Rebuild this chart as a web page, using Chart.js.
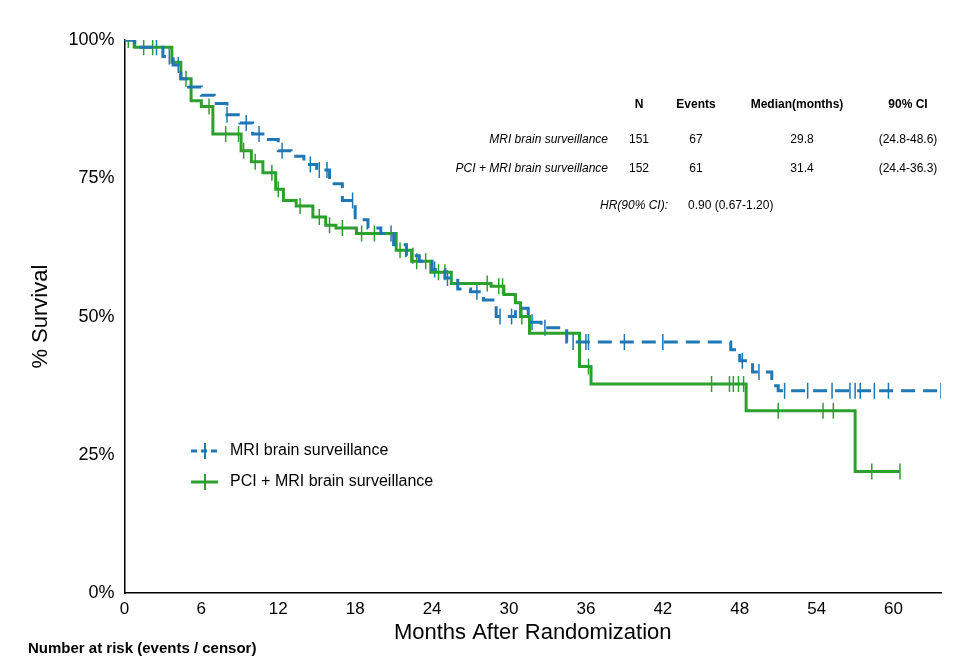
<!DOCTYPE html>
<html><head><meta charset="utf-8">
<script src="https://cdn.jsdelivr.net/npm/chart.js@4"></script>
<style>html,body{margin:0;padding:0;background:#fff}#w{width:971px;height:666px}</style>
</head><body><div id="w"><canvas id="c"></canvas></div>
<script>
const xTicks=[0,6,12,18,24,30,36,42,48,54,60];
const mriT=[0,0.8,3,3.8,4.4,5,6,7,8,9,10,11,12,13,14,15,16,17,18,19,20,21,22,23,24,25,26,27,28,29,30.5,31.5,32.5,34.5,47.3,48,49,50.5,51,63.7];
const mriS=[100,98.7,97,95.5,93,91.5,90,88.5,86.5,85,83,82,80,79,77.5,76.5,74,71,67.5,66,65,63,61,60,58.5,57,55,54.5,53,50,51.5,49,48,45.4,44,42,40,37.5,36.6,36.6];
const pciT=[0,0.8,2.8,3.7,4.4,5.2,6,6.9,8.3,9.1,9.9,10.8,11.8,12.4,13.4,14.7,15.7,16.5,18.1,21.2,22.4,23.9,25.5,28.6,29.6,30.5,30.9,31.6,35.5,36.4,48.5,57.0,60.5];
const pciS=[100,98.7,98.7,96,93,89,88,83,83,80,78,76,73,71,70,68,66.5,66,65,62,60,58,56,55.5,54,52.5,50,47,41,37.8,33,22,22];
const mriCens=[2.5,3.5,4.2,8,9.5,10.5,12.3,14.5,15.2,15.8,17.8,20.8,22.5,24.2,25.2,27.5,29.3,30.2,31.8,32.8,35,35.5,36,36.2,39,42,48.2,49.5,51.5,53.3,55.2,56.6,57,57.4,58.5,59.6,63.7];
const pciCens=[0.3,0.7,1.5,2.2,4.8,6.6,7.9,8.9,9.3,10.2,11.5,12,13.7,15.2,16,17,18.5,19.5,21.5,22.8,23.5,24.5,25,28.3,29.2,29.5,31,36.2,45.8,47.2,47.5,47.9,48.3,51,54.5,55.3,58.3,60.5];
const legendLabels=['MRI brain surveillance','PCI + MRI brain surveillance'];
const tableRows=[['MRI brain surveillance','151','67','29.8','(24.8-48.6)'],['PCI + MRI brain surveillance','152','61','31.4','(24.4-36.3)']];
const BLUE='#1f77b4',GREEN='#2ca02c';
function sAt(T,S,t){let v=S[0];for(let i=0;i<T.length;i++){if(T[i]<=t)v=S[i];}return v;}
const pts=(T,S)=>T.map((t,i)=>({x:t,y:S[i]}));
const cpts=(C,T,S)=>C.map(t=>({x:t,y:sAt(T,S,t)}));
const deco={id:'deco',afterDraw(ch){const c=ch.ctx;c.save();c.fillStyle='#000';
 c.font='bold 12px Arial, Liberation Sans';c.textAlign='center';
 c.fillText('N',639,108);c.fillText('Events',696,108);c.fillText('Median(months)',797,108);c.fillText('90% CI',908,108);
 tableRows.forEach((r,i)=>{const y=143+i*29;c.textAlign='right';c.font='italic 12px Arial, Liberation Sans';c.fillText(r[0],608,y);
  c.font='12px Arial, Liberation Sans';c.textAlign='center';c.fillText(r[1],639,y);c.fillText(r[2],696,y);c.fillText(r[3],802,y);c.fillText(r[4],908,y);});
 c.textAlign='right';c.font='italic 12px Arial, Liberation Sans';c.fillText('HR(90% CI):',668,209);
 c.textAlign='left';c.font='12px Arial, Liberation Sans';c.fillText('0.90 (0.67-1.20)',688,209);
 c.font='16px Arial, Liberation Sans';c.textBaseline='middle';
 [[BLUE,[6,4]],[GREEN,[]]].forEach((s,i)=>{const y=451+31*i;c.strokeStyle=s[0];c.lineWidth=3;c.setLineDash(s[1]);c.beginPath();c.moveTo(191,y);c.lineTo(218,y);c.stroke();c.setLineDash([]);c.lineWidth=2;c.beginPath();c.moveTo(205,y-8);c.lineTo(205,y+8);c.stroke();c.fillText(legendLabels[i],230,y);});
 c.textBaseline='alphabetic';c.textAlign='left';c.font='bold 15px Arial, Liberation Sans';c.fillText('Number at risk (events / censor)',28,653);
 c.restore();}};
new Chart(document.getElementById('c'),{type:'line',
 data:{datasets:[
  {data:pts(mriT,mriS),borderColor:BLUE,borderWidth:3,borderDash:[14,8],stepped:true,pointRadius:0,fill:false},
  {data:pts(pciT,pciS),borderColor:GREEN,borderWidth:3,stepped:true,pointRadius:0,fill:false},
  {type:'scatter',data:cpts(mriCens,mriT,mriS),pointStyle:'line',rotation:90,radius:8,borderColor:BLUE,borderWidth:1.5,showLine:false},
  {type:'scatter',data:cpts(pciCens,pciT,pciS),pointStyle:'line',rotation:90,radius:8,borderColor:GREEN,borderWidth:1.5,showLine:false}]},
 options:{animation:false,responsive:true,maintainAspectRatio:false,
  layout:{padding:{top:40,right:30,left:24,bottom:0}},
  plugins:{legend:{display:false},tooltip:{enabled:false}},
  scales:{
   x:{type:'linear',min:0,max:63.7,afterBuildTicks:a=>{a.ticks=xTicks.map(v=>({value:v}));},
    grid:{display:false,drawTicks:true,tickLength:6,color:'#000'},border:{color:'#000',width:1.5},
    ticks:{color:'#000',font:{size:17,family:'Arial'},maxRotation:0,padding:0},
    title:{display:true,text:'Months After Randomization',color:'#000',font:{size:22,family:'Arial'},padding:{top:0,bottom:20}}},
   y:{min:0,max:100,afterBuildTicks:a=>{a.ticks=[0,25,50,75,100].map(v=>({value:v}));},
    grid:{display:false,tickLength:6},border:{color:'#000',width:1.5},
    ticks:{color:'#000',font:{size:18,family:'Arial'},callback:v=>v+'%',padding:4},
    title:{display:true,text:'% Survival',color:'#000',font:{size:22,family:'Arial'},padding:{bottom:10}}}}},
 plugins:[deco]});
</script></body></html>
